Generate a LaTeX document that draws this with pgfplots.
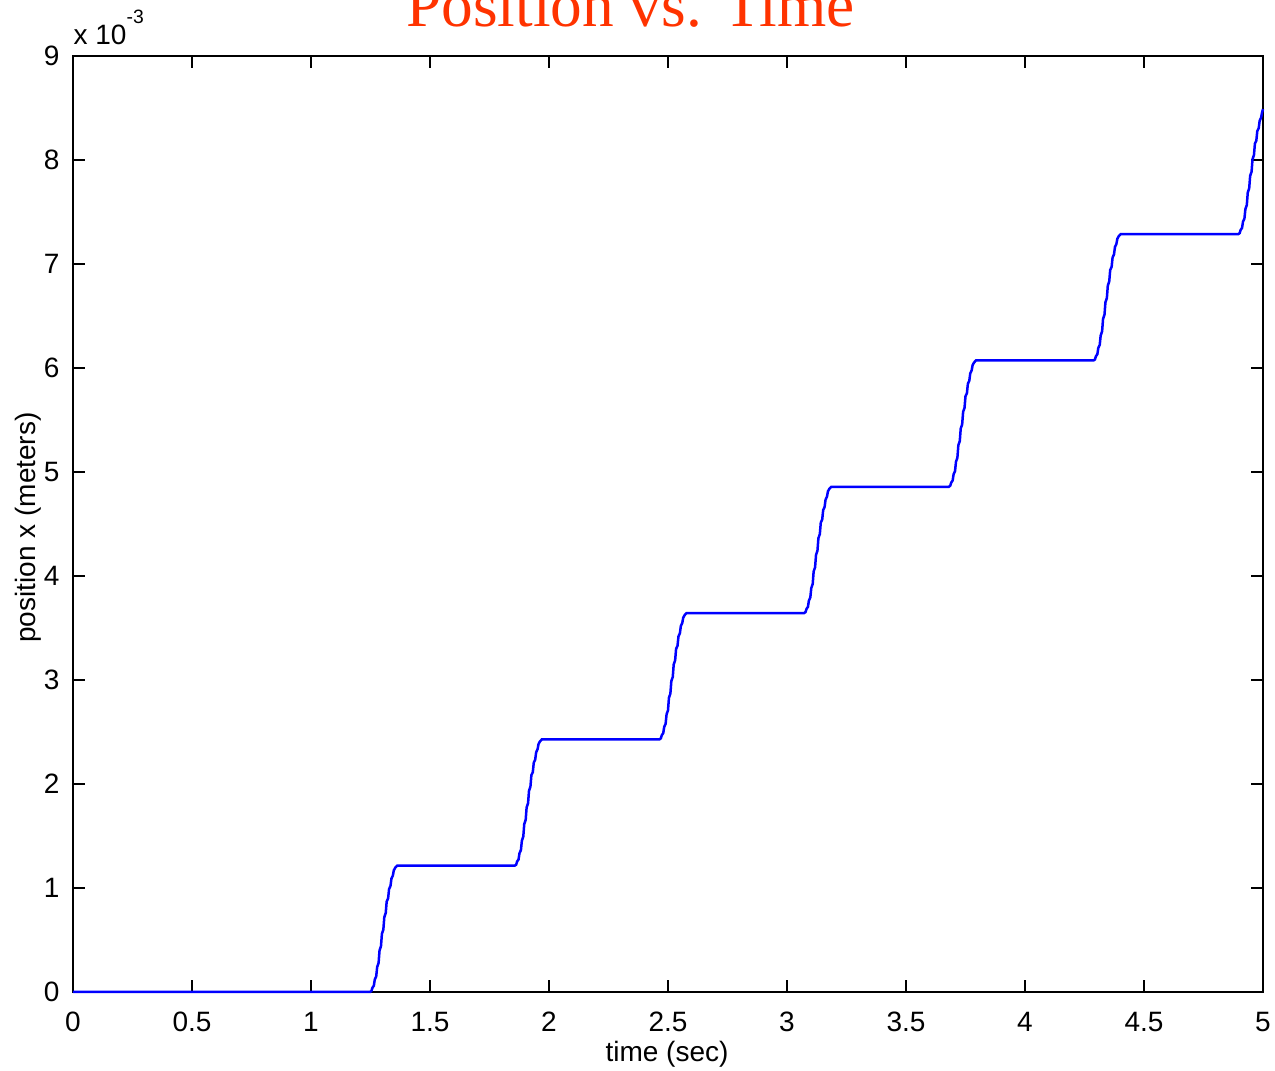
\documentclass[border=0pt]{standalone}
\usepackage{pgfplots}
\pgfplotsset{compat=1.18}
\usepackage{fontspec}
\setmainfont{Liberation Sans}
\newfontfamily\titlefont{Liberation Serif}
\definecolor{titlered}{RGB}{255,51,0}
\begin{document}
\begin{tikzpicture}
\begin{axis}[
  name=ax,
  scale only axis,
  width=357pt, height=280.8pt,
  xmin=0, xmax=5, ymin=0, ymax=9,
  xtick={0,0.5,1,1.5,2,2.5,3,3.5,4,4.5,5},
  ytick={0,1,2,3,4,5,6,7,8,9},
  tick align=inside,
  tick pos=both,
  major tick length=3.5pt,
  axis line style={line width=0.8pt},
  every tick/.style={black, line width=0.5pt},
  /pgf/number format/assume math mode=true,
  /pgf/number format/fixed,
  ticklabel style={font=\fontsize{8.4}{10}\selectfont},
  xticklabel style={yshift=-2.6pt},
  yticklabel style={xshift=-0.5pt},
  clip=false,
]
\addplot[blue, line width=0.75pt] coordinates {
(0,0) (1.248,0)
(1.254,0.010) (1.258,0.040) (1.264,0.060) (1.268,0.120) (1.274,0.150) (1.278,0.240)
(1.284,0.280) (1.288,0.400) (1.294,0.440) (1.298,0.560) (1.304,0.600) (1.308,0.720)
(1.314,0.760) (1.318,0.870) (1.324,0.900) (1.328,0.990) (1.334,1.020) (1.338,1.090)
(1.344,1.120) (1.348,1.170) (1.354,1.195) (1.362,1.2145)
(1.856,1.2145)
(1.862,1.2245) (1.866,1.2545) (1.872,1.2745) (1.876,1.3345) (1.882,1.3645) (1.886,1.4545)
(1.892,1.4945) (1.896,1.6145) (1.902,1.6545) (1.906,1.7745) (1.912,1.8145) (1.916,1.9345)
(1.922,1.9745) (1.926,2.0845) (1.932,2.1145) (1.936,2.2045) (1.942,2.2345) (1.946,2.3045)
(1.952,2.3345) (1.956,2.3845) (1.962,2.4095) (1.970,2.429)
(2.464,2.429)
(2.470,2.439) (2.474,2.469) (2.480,2.489) (2.484,2.549) (2.490,2.579) (2.494,2.669)
(2.500,2.709) (2.504,2.829) (2.510,2.869) (2.514,2.989) (2.520,3.029) (2.524,3.149)
(2.530,3.189) (2.534,3.299) (2.540,3.329) (2.544,3.419) (2.550,3.449) (2.554,3.519)
(2.560,3.549) (2.564,3.599) (2.570,3.624) (2.578,3.6435)
(3.072,3.6435)
(3.078,3.6535) (3.082,3.6835) (3.088,3.7035) (3.092,3.7635) (3.098,3.7935) (3.102,3.8835)
(3.108,3.9235) (3.112,4.0435) (3.118,4.0835) (3.122,4.2035) (3.128,4.2435) (3.132,4.3635)
(3.138,4.4035) (3.142,4.5135) (3.148,4.5435) (3.152,4.6335) (3.158,4.6635) (3.162,4.7335)
(3.168,4.7635) (3.172,4.8135) (3.178,4.8385) (3.186,4.858)
(3.680,4.858)
(3.686,4.868) (3.690,4.898) (3.696,4.918) (3.700,4.978) (3.706,5.008) (3.710,5.098)
(3.716,5.138) (3.720,5.258) (3.726,5.298) (3.730,5.418) (3.736,5.458) (3.740,5.578)
(3.746,5.618) (3.750,5.728) (3.756,5.758) (3.760,5.848) (3.766,5.878) (3.770,5.948)
(3.776,5.978) (3.780,6.028) (3.786,6.053) (3.794,6.0725)
(4.288,6.0725)
(4.294,6.0825) (4.298,6.1125) (4.304,6.1325) (4.308,6.1925) (4.314,6.2225) (4.318,6.3125)
(4.324,6.3525) (4.328,6.4725) (4.334,6.5125) (4.338,6.6325) (4.344,6.6725) (4.348,6.7925)
(4.354,6.8325) (4.358,6.9425) (4.364,6.9725) (4.368,7.0625) (4.374,7.0925) (4.378,7.1625)
(4.384,7.1925) (4.388,7.2425) (4.394,7.2675) (4.402,7.287)
(4.896,7.287)
(4.902,7.297) (4.906,7.327) (4.912,7.347) (4.916,7.407) (4.922,7.437) (4.926,7.527)
(4.932,7.567) (4.936,7.687) (4.942,7.727) (4.946,7.847) (4.952,7.887) (4.956,8.007)
(4.962,8.047) (4.966,8.157) (4.972,8.187) (4.976,8.277) (4.982,8.307) (4.986,8.377)
(4.992,8.407) (4.996,8.457) (5.000,8.490)
};
\end{axis}
\node[anchor=base, text=titlered, font=\titlefont\fontsize{19}{22}\selectfont, inner sep=0pt]
  at ([shift={(167.25pt,289.6pt)}]ax.south west) {Position vs. Time};
\node[anchor=base west, inner sep=0pt, font=\fontsize{8.4}{10}\selectfont]
  at ([shift={(0pt,284.1pt)}]ax.south west) {x 10\raisebox{6.4pt}{\fontsize{5.8}{6}\selectfont -3}};
\node[anchor=base, inner sep=0pt, font=\fontsize{8.4}{10}\selectfont]
  at ([shift={(178.2pt,-20.9pt)}]ax.south west) {time (sec)};
\node[anchor=base, rotate=90, inner sep=0pt, font=\fontsize{8.4}{10}\selectfont]
  at ([shift={(-11.4pt,139.35pt)}]ax.south west) {position x (meters)};
\pgfresetboundingbox
\path[use as bounding box] ([shift={(-21.9pt,-23.4pt)}]ax.south west) rectangle ([shift={(3.6pt,16.8pt)}]ax.north east);
\end{tikzpicture}
\end{document}
